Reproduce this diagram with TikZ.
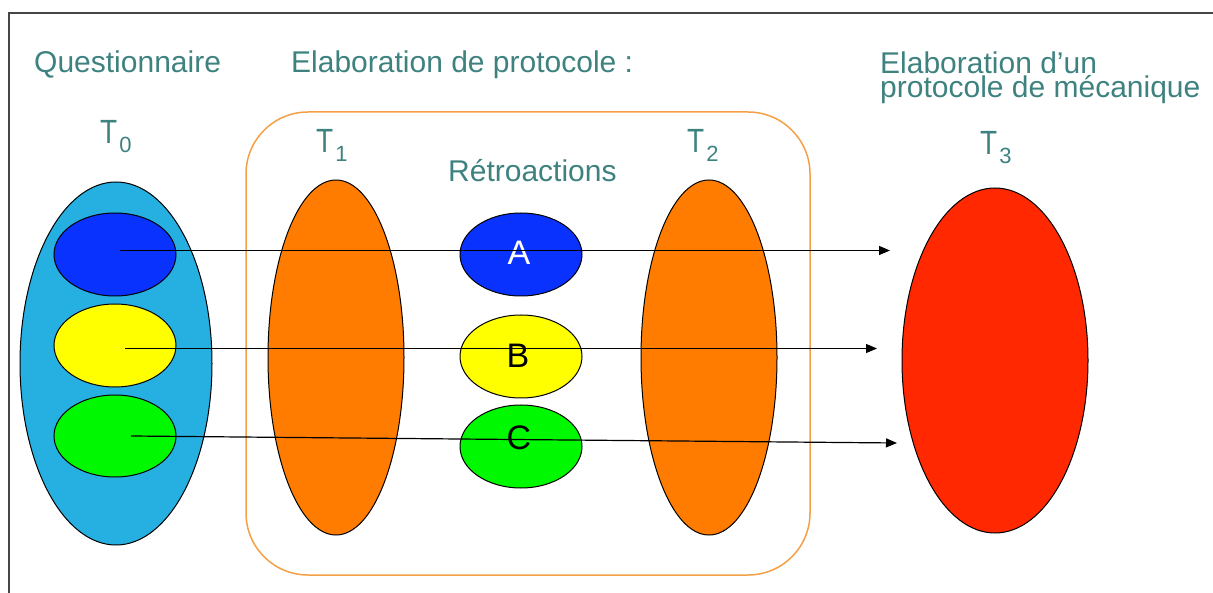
\documentclass[tikz,border=0pt]{standalone}
\usepackage{fontspec}
\setmainfont{Liberation Sans}
\usetikzlibrary{shapes.geometric,arrows.meta}
\definecolor{tealtxt}{RGB}{62,130,128}
\definecolor{skyblue}{RGB}{38,176,226}
\definecolor{deepblue}{RGB}{10,50,255}
\definecolor{ylw}{RGB}{255,255,0}
\definecolor{grn}{RGB}{0,248,0}
\definecolor{orng}{RGB}{255,124,0}
\definecolor{redd}{RGB}{255,40,0}
\definecolor{boxorange}{RGB}{245,160,70}
\definecolor{framegray}{RGB}{70,70,70}
\newcommand{\Tlab}[1]{\scalebox{1}[1.2]{\fontsize{28}{28}\selectfont T}\kern2pt\raisebox{-9pt}{\fontsize{22}{22}\selectfont #1}}
\begin{document}
\begin{tikzpicture}[x=1pt,y=-1pt,
  title/.style={anchor=base west, inner sep=0, text=tealtxt, font=\fontsize{30}{24}\selectfont},
  tlab/.style={anchor=base west, inner sep=0, text=tealtxt},
  blob/.style={ellipse, draw=black, line width=1pt, inner sep=0},
  lbl/.style={font=\fontsize{34}{34}\selectfont, inner sep=0},
  flow/.style={line width=1.2pt, draw=black, -{Triangle[length=11pt,width=9pt]}}]
\useasboundingbox (0,0) rectangle (1213,593);
% frame
\coordinate (fr1) at (1213,13);
\coordinate (fr2) at (9,13);
\coordinate (fr3) at (9,593);
\draw[framegray, line width=1.3pt] (fr1) -- (fr2) -- (fr3);
% titles
\node[title] (q) at (34,73) {Questionnaire};
\node[title] (ep) at (291,73) {Elaboration de protocole :};
\node[title] (em1) at (880,74) {Elaboration d’un};
\node[title] (em2) at (880,98) {protocole de mécanique};
\node[title] (retro) at (448,182) {Rétroactions};
% T labels
\node[tlab] (t0) at (100,144) {\Tlab{0}};
\node[tlab] (t1) at (316,153) {\Tlab{1}};
\node[tlab] (t2) at (687,153) {\Tlab{2}};
\node[tlab] (t3) at (980,155) {\Tlab{3}};
% box
\node[draw=boxorange, line width=1.5pt, rounded corners=62pt, minimum width=564pt, minimum height=463pt, inner sep=0] (box) at (528,343.5) {};
% ellipses
\node[blob, fill=skyblue, minimum width=192pt, minimum height=363pt] (big) at (116,363.5) {};
\node[blob, fill=deepblue, minimum width=122pt, minimum height=83pt] (e0a) at (115,254.5) {};
\node[blob, fill=ylw, minimum width=122pt, minimum height=83pt] (e0b) at (115,345.5) {};
\node[blob, fill=grn, minimum width=122pt, minimum height=82pt] (e0c) at (115,436) {};
\node[blob, fill=orng, minimum width=136pt, minimum height=355pt] (o1) at (336,357.5) {};
\node[blob, fill=orng, minimum width=136pt, minimum height=355pt] (o2) at (709,357.5) {};
\node[blob, fill=redd, minimum width=186pt, minimum height=345pt] (t3e) at (995,360.5) {};
\node[blob, fill=deepblue, minimum width=122pt, minimum height=83pt] (ra) at (521,254.5) {};
\node[blob, fill=ylw, minimum width=122pt, minimum height=83pt] (rb) at (521,356.5) {};
\node[blob, fill=grn, minimum width=122pt, minimum height=83pt] (rc) at (521,446.5) {};
\node[lbl, text=white] (la) at (519,253) {A};
\node[lbl] (lb) at (518,356) {B};
\node[lbl] (lc) at (519,437.5) {C};
% arrows
\coordinate (sa) at (120,250.5);
\coordinate (ea) at (890,250.5);
\coordinate (sb) at (125,348.5);
\coordinate (eb) at (877,348.5);
\coordinate (sc) at (131,436);
\coordinate (ec) at (897,443);
\draw[flow] (sa) -- (ea);
\draw[flow] (sb) -- (eb);
\draw[flow] (sc) -- (ec);
\end{tikzpicture}
\end{document}
